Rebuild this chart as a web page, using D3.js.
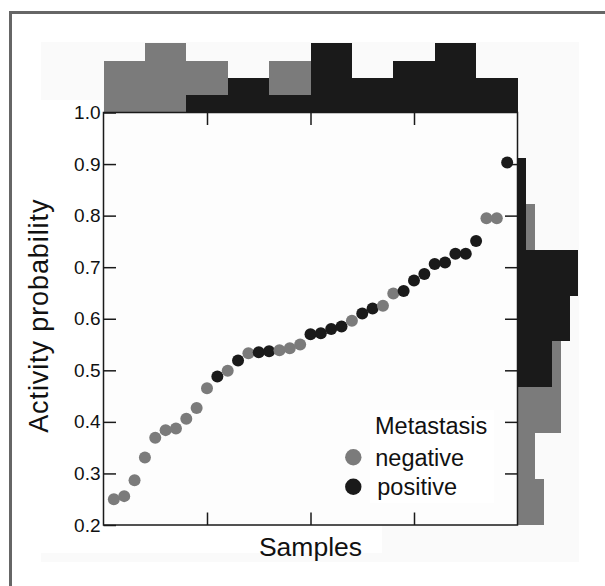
<!DOCTYPE html>
<html>
<head>
<meta charset="utf-8">
<script src="https://cdn.jsdelivr.net/npm/d3@7"></script>
<style>
  body { margin: 0; background: #fff; }
  svg { display: block; font-family: "Liberation Sans", Arial, Helvetica, sans-serif; }
</style>
</head>
<body>
<div id="chart"></div>
<script>
// samples sorted by activity probability
const sampleProb = [0.250, 0.256, 0.287, 0.331, 0.369, 0.384, 0.387, 0.406, 0.427, 0.465,
    0.488, 0.499, 0.519, 0.533, 0.535, 0.537, 0.539, 0.543, 0.550, 0.570,
    0.572, 0.580, 0.585, 0.596, 0.610, 0.620, 0.625, 0.649, 0.654, 0.674,
    0.687, 0.706, 0.709, 0.726, 0.726, 0.751, 0.795, 0.795, 0.903];
const sampleStatus = ['neg', 'neg', 'neg', 'neg', 'neg', 'neg', 'neg', 'neg', 'neg', 'neg',
    'pos', 'neg', 'pos', 'neg', 'pos', 'pos', 'neg', 'neg', 'neg', 'pos',
    'pos', 'pos', 'pos', 'neg', 'pos', 'pos', 'neg', 'neg', 'pos', 'pos',
    'pos', 'pos', 'pos', 'pos', 'pos', 'pos', 'neg', 'neg', 'pos'];

// top histogram: counts per block of samples
const topBinEdges = [0, 4, 8, 12, 16, 20, 24, 28, 32, 36, 40];
const topNeg = [3, 4, 3, 0, 3, 0, 0, 0, 0, 0];
const topPos = [0, 0, 1, 2, 1, 4, 2, 3, 4, 2];

// right histogram: counts per probability bin
const rightBinEdges = [0.2, 0.289, 0.378, 0.467, 0.556, 0.645, 0.734, 0.823, 0.912];
const rightNeg = [3, 2, 5, 5, 0, 0, 2, 0];
const rightPos = [0, 0, 0, 4, 6, 7, 1, 1];

const yTicks = [0.2, 0.3, 0.4, 0.5, 0.6, 0.7, 0.8, 0.9, 1.0];
const xTicks = [10, 20, 30];
const legendItems = ['negative', 'positive'];

const colors = { neg: '#7b7b7b', pos: '#1a1a1a' };
const font = '"Liberation Sans", Arial, Helvetica, sans-serif';

const W = 605, H = 586;
const plotL = 103.5, plotR = 517.5, plotT = 112.5, plotB = 525;

const svg = d3.select('#chart').append('svg')
    .attr('width', W)
    .attr('height', H);

// background panels
svg.append('rect').attr('x', 41).attr('y', 42).attr('width', 538).attr('height', 520).attr('fill', '#fafafa');
svg.append('rect').attr('x', 41).attr('y', 100).attr('width', 62).attr('height', 453).attr('fill', '#ffffff');
svg.append('rect').attr('x', 101).attr('y', 112).attr('width', 417).attr('height', 413).attr('fill', '#fdfdfd');
svg.append('rect').attr('x', 101).attr('y', 525).attr('width', 281).attr('height', 28).attr('fill', '#ffffff');
svg.append('rect').attr('x', 370).attr('y', 410).attr('width', 124).attr('height', 93).attr('fill', '#ffffff');

// outer frame
svg.append('rect')
    .attr('x', 10.5).attr('y', 12.5)
    .attr('width', W + 20).attr('height', H + 20)
    .attr('fill', 'none')
    .attr('stroke', '#666')
    .attr('stroke-width', 3);

const x = d3.scaleLinear().domain([0, 40]).range([plotL, plotR]);
const y = d3.scaleLinear().domain([0.2, 1.0]).range([plotB, plotT]);
const topCount = d3.scaleLinear().domain([0, 4]).range([plotT, 43.3]);
const rightCount = d3.scaleLinear().domain([0, 7]).range([plotR, 578.3]);

// top histogram (negative behind, positive in front)
const topBins = topNeg.map((v, i) => ({ x0: topBinEdges[i], x1: topBinEdges[i + 1], neg: v, pos: topPos[i] }));
['neg', 'pos'].forEach(k => {
    svg.append('g').selectAll('rect')
        .data(topBins.filter(d => d[k] > 0))
        .enter()
        .append('rect')
        .attr('x', d => x(d.x0))
        .attr('y', d => topCount(d[k]))
        .attr('width', d => x(d.x1) - x(d.x0))
        .attr('height', d => plotT - topCount(d[k]))
        .attr('fill', colors[k])
        .attr('shape-rendering', 'crispEdges');
});

// right histogram
const rightBins = rightNeg.map((v, i) => ({ y0: rightBinEdges[i], y1: rightBinEdges[i + 1], neg: v, pos: rightPos[i] }));
['neg', 'pos'].forEach(k => {
    svg.append('g').selectAll('rect')
        .data(rightBins.filter(d => d[k] > 0))
        .enter()
        .append('rect')
        .attr('x', plotR)
        .attr('y', d => y(d.y1))
        .attr('width', d => rightCount(d[k]) - plotR)
        .attr('height', d => y(d.y0) - y(d.y1))
        .attr('fill', colors[k])
        .attr('shape-rendering', 'crispEdges');
});

// axes, ticks pointing inward
const tickLen = 12.5;
function styleAxis(g) {
    g.attr('font-family', font).attr('font-size', 19);
    g.select('.domain').remove();
    g.selectAll('.tick line').attr('stroke', '#1a1a1a').attr('stroke-width', 1.5);
    g.selectAll('.tick text').attr('fill', '#111');
}

svg.append('g')
    .attr('transform', `translate(${plotL},0)`)
    .call(d3.axisLeft(y).tickValues(yTicks).tickSize(-tickLen).tickPadding(3).tickFormat(d3.format('.1f')))
    .call(styleAxis);

svg.append('g')
    .attr('transform', `translate(${plotR},0)`)
    .call(d3.axisRight(y).tickValues(yTicks.slice(1, -1)).tickSize(-tickLen).tickFormat(''))
    .call(styleAxis);

svg.append('g')
    .attr('transform', `translate(0,${plotB})`)
    .call(d3.axisBottom(x).tickValues(xTicks).tickSize(-tickLen).tickFormat(''))
    .call(styleAxis);

svg.append('g')
    .attr('transform', `translate(0,${plotT})`)
    .call(d3.axisTop(x).tickValues(xTicks).tickSize(-tickLen).tickFormat(''))
    .call(styleAxis);

// plot frame
svg.append('rect')
    .attr('x', plotL).attr('y', plotT)
    .attr('width', plotR - plotL).attr('height', plotB - plotT)
    .attr('fill', 'none')
    .attr('stroke', '#1a1a1a')
    .attr('stroke-width', 1.5);

// points
svg.append('g').selectAll('circle')
    .data(sampleProb.map((p, i) => ({ idx: i + 1, p, s: sampleStatus[i] })))
    .enter()
    .append('circle')
    .attr('cx', d => x(d.idx))
    .attr('cy', d => y(d.p))
    .attr('r', 6)
    .attr('fill', d => colors[d.s]);

// axis titles
svg.append('text')
    .attr('x', (plotL + plotR) / 2)
    .attr('y', 556)
    .attr('text-anchor', 'middle')
    .style('font-size', '26.5px')
    .attr('fill', '#111')
    .text('Samples');

svg.append('text')
    .attr('transform', `translate(48,${(plotT + plotB) / 2 - 3}) rotate(-90)`)
    .attr('text-anchor', 'middle')
    .style('font-size', '27px')
    .style('letter-spacing', '0.9px')
    .attr('fill', '#111')
    .text('Activity probability');

// legend
svg.append('text')
    .attr('x', 375).attr('y', 433.5)
    .style('font-size', '23.5px')
    .attr('fill', '#111')
    .text('Metastasis');

const legend = svg.append('g').selectAll('g')
    .data(legendItems)
    .enter()
    .append('g')
    .attr('transform', (d, i) => `translate(353.3,${457.3 + i * 29.4})`);

legend.append('circle')
    .attr('r', 8.2)
    .attr('fill', (d, i) => i === 0 ? colors.neg : colors.pos);

legend.append('text')
    .attr('x', (d, i) => i === 0 ? 22 : 24)
    .attr('y', 8.5)
    .style('font-size', '23.5px')
    .attr('fill', '#111')
    .text(d => d);
</script>
</body>
</html>
